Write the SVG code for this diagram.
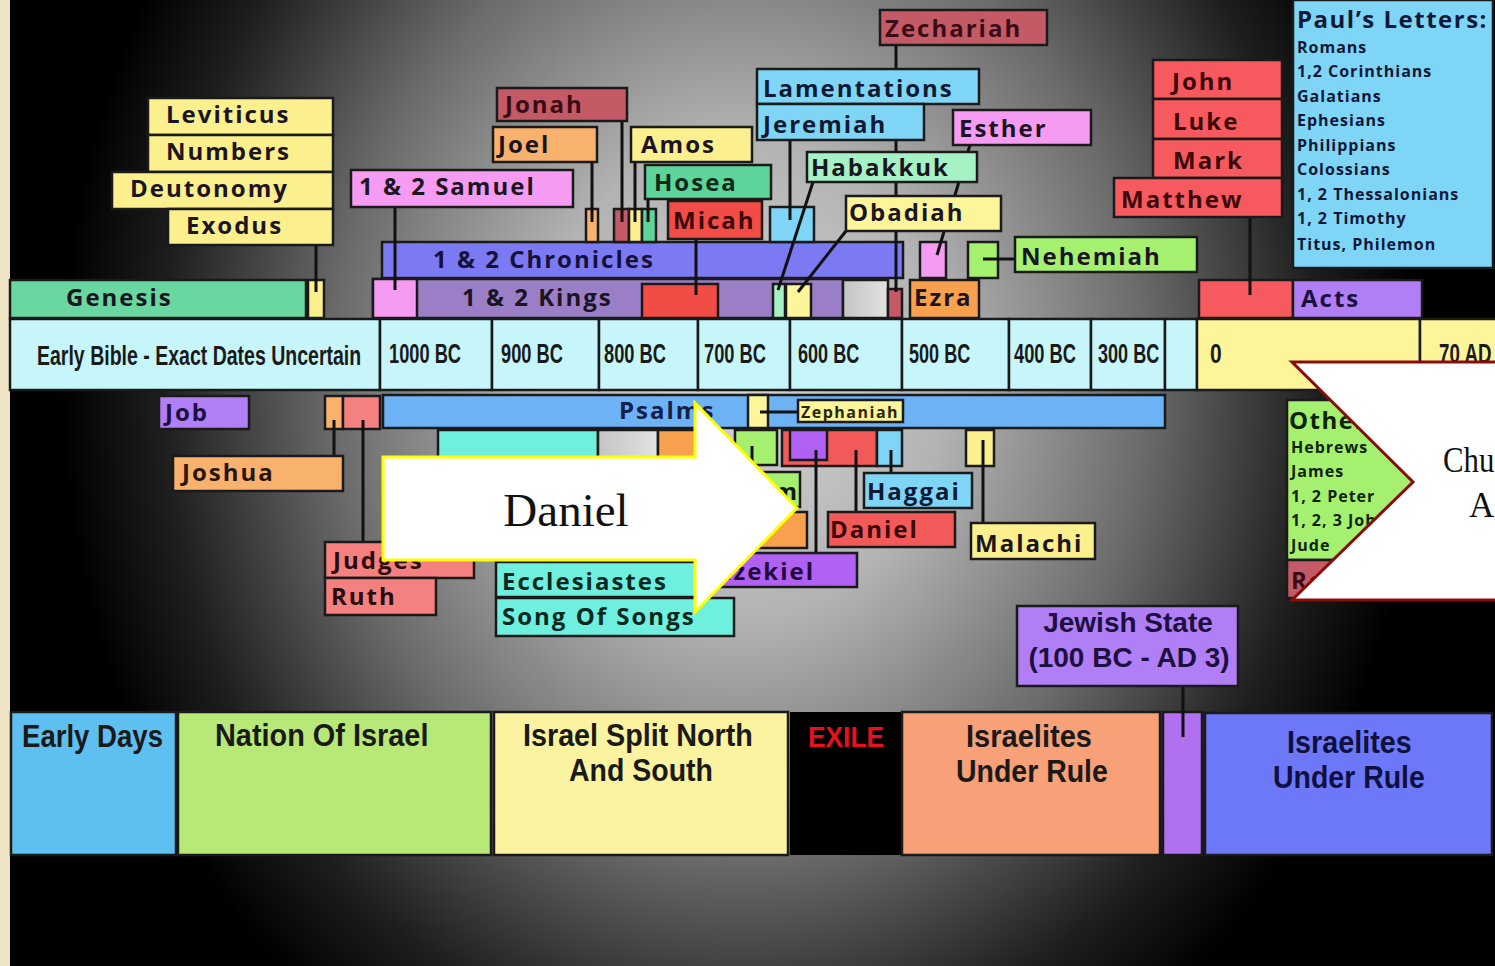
<svg xmlns="http://www.w3.org/2000/svg" width="1495" height="966" viewBox="0 0 1495 966">
<defs>
<radialGradient id="bg" gradientUnits="userSpaceOnUse" cx="0" cy="0" r="1" gradientTransform="translate(740 380) scale(680 800)">
<stop offset="0" stop-color="#d4d4d4"/>
<stop offset="0.3" stop-color="#b3b3b3"/>
<stop offset="0.6" stop-color="#6a6a6a"/>
<stop offset="0.85" stop-color="#1e1e1e"/>
<stop offset="1" stop-color="#000"/>
</radialGradient>
<linearGradient id="gry" x1="0" y1="0" x2="1" y2="0">
<stop offset="0" stop-color="#c4c4c4"/>
<stop offset="1" stop-color="#e2e2e2"/>
</linearGradient>
<style>
.b{stroke:#1a1a1a;stroke-width:2.5}
.t{font-family:"Open Sans","Noto Sans","DejaVu Sans",sans-serif;font-weight:700;font-size:24px;letter-spacing:2px;fill:#1b1422}
.s{font-size:16px;letter-spacing:1px;fill:#101838}
.c{font-family:"Liberation Sans",Arial,sans-serif;font-weight:700;fill:#1a1a1a}
.sf{font-family:"Liberation Serif","Times New Roman",serif;fill:#111}
.cn{stroke:#111;stroke-width:3;fill:none}
.yel{fill:#fbef8e}.gen{fill:#6ad6a0}.pnk{fill:#f59cf2}.ros{fill:#c35a66}.org{fill:#f9b26e}
.hos{fill:#5cd49a}.red{fill:#f24c46}.chr{fill:#7c7af2}.kng{fill:#9a7fc6}.lbl{fill:#7fd5f5}
.mnt{fill:#a6f2c4}.lim{fill:#a6f070}.ezr{fill:#f7a04e}.gsp{fill:#f75a5e}.prp{fill:#b07ef5}
.cy{fill:#c6f6fa}.ylc{fill:#fdf59a}.sal{fill:#f58080}.psa{fill:#6cb2f5}.tea{fill:#6ff0de}
.ezk{fill:#b060f2}.dan{fill:#f25a5a}
</style>
</defs>

<rect width="1495" height="966" fill="#000"/>
<rect x="10" width="1485" height="966" fill="url(#bg)"/>
<rect width="10" height="966" fill="#efe4c4"/>

<!-- timeline -->
<g id="timeline">
<rect x="10" y="319" width="370" height="71" class="cy b"/>
<rect x="380" y="319" width="112" height="71" class="cy b"/>
<rect x="492" y="319" width="107" height="71" class="cy b"/>
<rect x="599" y="319" width="99" height="71" class="cy b"/>
<rect x="698" y="319" width="92" height="71" class="cy b"/>
<rect x="790" y="319" width="112" height="71" class="cy b"/>
<rect x="902" y="319" width="107" height="71" class="cy b"/>
<rect x="1009" y="319" width="82" height="71" class="cy b"/>
<rect x="1091" y="319" width="74" height="71" class="cy b"/>
<rect x="1165" y="319" width="32" height="71" class="cy b"/>
<rect x="1197" y="319" width="223" height="71" class="ylc b"/>
<rect x="1420" y="319" width="80" height="71" class="ylc b"/>
<text class="c" font-size="28" transform="translate(37 365) scale(0.697 1)">Early Bible - Exact Dates Uncertain</text>
<text class="c" font-size="28" transform="translate(389 363) scale(0.652 1)">1000 BC</text>
<text class="c" font-size="28" transform="translate(501 363) scale(0.653 1)">900 BC</text>
<text class="c" font-size="28" transform="translate(604 363) scale(0.653 1)">800 BC</text>
<text class="c" font-size="28" transform="translate(704 363) scale(0.653 1)">700 BC</text>
<text class="c" font-size="28" transform="translate(798 363) scale(0.645 1)">600 BC</text>
<text class="c" font-size="28" transform="translate(909 363) scale(0.645 1)">500 BC</text>
<text class="c" font-size="28" transform="translate(1014 363) scale(0.653 1)">400 BC</text>
<text class="c" font-size="28" transform="translate(1098 363) scale(0.645 1)">300 BC</text>
<text class="c" font-size="28" transform="translate(1210 363) scale(0.75 1)">0</text>
<text class="c" font-size="28" transform="translate(1439 363) scale(0.67 1)">70 AD</text>
</g>

<!-- bars -->
<g id="chronicles"><rect x="382" y="242" width="521" height="36" class="chr b"/><text class="t" x="433" y="268" style="fill:#14123a">1 &amp; 2 Chronicles</text></g>
<g id="kings"><rect x="373" y="279" width="470" height="39" class="kng b"/><text class="t" x="462" y="306">1 &amp; 2 Kings</text></g>
<g id="psalms"><rect x="383" y="395" width="782" height="33" class="psa b"/><text class="t" x="619" y="419" style="fill:#14204a">Psalms</text></g>

<!-- bottom eras -->
<g id="era-early"><rect x="11" y="712" width="165" height="143" fill="#5ec0f0" class="b"/><text class="c" font-size="32" transform="translate(22 747) scale(0.862 1)">Early Days</text></g>
<g id="era-nation"><rect x="178" y="712" width="313" height="143" fill="#b8e878" class="b"/><text class="c" font-size="32" transform="translate(215 746) scale(0.903 1)">Nation Of Israel</text></g>
<g id="era-split"><rect x="494" y="712" width="294" height="143" fill="#fbf3a0" class="b"/><text class="c" font-size="32" transform="translate(523 746) scale(0.898 1)">Israel Split North</text><text class="c" font-size="32" transform="translate(569 781) scale(0.89 1)">And South</text></g>
<g id="era-exile"><rect x="790" y="712" width="111" height="143" fill="#000"/><text class="c" font-size="30" transform="translate(808 747) scale(0.877 1)" style="fill:#e8101a">EXILE</text></g>
<g id="era-rule1"><rect x="902" y="712" width="258" height="143" fill="#f8a078" class="b"/><text class="c" font-size="32" transform="translate(966 747) scale(0.908 1)">Israelites</text><text class="c" font-size="32" transform="translate(956 782) scale(0.89 1)">Under Rule</text></g>
<g id="era-jewish"><rect x="1163" y="712" width="39" height="143" fill="#b070f0" class="b"/></g>
<g id="era-rule2"><rect x="1205" y="713" width="287" height="142" fill="#6c78f8" class="b"/><text class="c" font-size="32" transform="translate(1287 753) scale(0.9 1)" style="fill:#101040">Israelites</text><text class="c" font-size="32" transform="translate(1273 788) scale(0.89 1)" style="fill:#101040">Under Rule</text></g>

<!-- markers -->
<g id="markers">
<rect id="m-exodus" x="308" y="280" width="16" height="38" class="yel b"/>
<rect id="m-samuel" x="373" y="279" width="44" height="39" class="pnk b"/>
<rect id="m-joel" x="586" y="209" width="12" height="33" class="org b"/>
<rect id="m-jonah" x="614" y="209" width="15" height="33" class="ros b"/>
<rect id="m-amos" x="629" y="209" width="13" height="33" class="yel b"/>
<rect id="m-hosea" x="642" y="209" width="14" height="33" class="hos b"/>
<rect id="m-micah" x="642" y="284" width="76" height="34" class="red b"/>
<rect id="m-jeremiah" x="770" y="207" width="44" height="35" class="lbl b"/>
<rect id="m-habakkuk" x="773" y="284" width="12" height="34" class="mnt b"/>
<rect id="m-obadiah" x="786" y="284" width="25" height="34" class="ylc b"/>
<rect id="m-gap" x="843" y="280" width="45" height="38" fill="url(#gry)" class="b"/>
<rect id="m-zechariah" x="888" y="289" width="14" height="29" class="ros b"/>
<rect id="m-esther" x="920" y="242" width="26" height="36" class="pnk b"/>
<rect id="m-nehemiah" x="968" y="242" width="30" height="36" class="lim b"/>
<rect id="m-matthew" x="1199" y="280" width="94" height="38" class="gsp b"/>
<rect id="m-joshua" x="325" y="396" width="18" height="33" class="org b"/>
<rect id="m-judges" x="343" y="396" width="37" height="33" class="sal b"/>
<rect id="m-zephaniah" x="748" y="395" width="20" height="33" class="ylc b"/>
<rect id="m-proverbs" x="438" y="430" width="160" height="36" class="tea b"/>
<rect id="m-gap2" x="598" y="430" width="60" height="36" fill="url(#gry)" class="b"/>
<rect id="m-isaiah" x="658" y="430" width="45" height="36" class="ezr b"/>
<rect id="m-nahum" x="735" y="430" width="42" height="35" class="lim b"/>
<rect id="m-daniel" x="782" y="430" width="95" height="36" class="dan b"/>
<rect id="m-ezekiel" x="790" y="430" width="37" height="30" class="ezk b"/>
<rect id="m-haggai" x="877" y="430" width="25" height="36" class="lbl b"/>
<rect id="m-malachi" x="966" y="430" width="28" height="36" class="yel b"/>
</g>

<!-- connectors -->
<g id="connectors" class="cn">
<line x1="316" y1="245" x2="316" y2="292"/>
<line x1="395" y1="207" x2="395" y2="290"/>
<line x1="592" y1="162" x2="592" y2="222"/>
<line x1="622" y1="121" x2="622" y2="222"/>
<line x1="635" y1="162" x2="635" y2="222"/>
<line x1="648" y1="199" x2="648" y2="222"/>
<line x1="696" y1="239" x2="696" y2="295"/>
<line x1="790" y1="140" x2="790" y2="220"/>
<line x1="813" y1="182" x2="778" y2="290"/>
<line x1="846" y1="231" x2="798" y2="292"/>
<line x1="896" y1="45" x2="896" y2="292"/>
<line x1="970" y1="145" x2="937" y2="255"/>
<line x1="983" y1="259" x2="1015" y2="259"/>
<line x1="1250" y1="217" x2="1250" y2="295"/>
<line x1="334" y1="420" x2="334" y2="456"/>
<line x1="363" y1="420" x2="363" y2="542"/>
<line x1="760" y1="412" x2="798" y2="412"/>
<line x1="752" y1="446" x2="752" y2="472"/>
<line x1="816" y1="450" x2="816" y2="553"/>
<line x1="856" y1="450" x2="856" y2="512"/>
<line x1="891" y1="450" x2="891" y2="473"/>
<line x1="983" y1="440" x2="983" y2="523"/>
<line x1="1183" y1="686" x2="1183" y2="737"/>
</g>

<!-- labels -->
<g id="genesis"><rect x="10" y="280" width="296" height="38" class="gen b"/><text class="t" x="66" y="306">Genesis</text></g>
<g id="leviticus"><rect x="148" y="98" width="185" height="37" class="yel b"/><text class="t" x="166" y="123">Leviticus</text></g>
<g id="numbers"><rect x="148" y="135" width="185" height="37" class="yel b"/><text class="t" x="166" y="160">Numbers</text></g>
<g id="deutonomy"><rect x="112" y="172" width="221" height="37" class="yel b"/><text class="t" x="130" y="197">Deutonomy</text></g>
<g id="exodus"><rect x="168" y="209" width="165" height="36" class="yel b"/><text class="t" x="186" y="234">Exodus</text></g>
<g id="samuel"><rect x="351" y="170" width="222" height="37" class="pnk b"/><text class="t" x="359" y="195">1 &amp; 2 Samuel</text></g>
<g id="jonah"><rect x="497" y="88" width="130" height="33" class="ros b"/><text class="t" x="505" y="113" style="fill:#3a0c16">Jonah</text></g>
<g id="joel"><rect x="493" y="127" width="104" height="35" class="org b"/><text class="t" x="498" y="153">Joel</text></g>
<g id="amos"><rect x="631" y="127" width="121" height="35" class="yel b"/><text class="t" x="641" y="153">Amos</text></g>
<g id="hosea"><rect x="645" y="165" width="126" height="34" class="hos b"/><text class="t" x="654" y="191" style="fill:#0e2a1c">Hosea</text></g>
<g id="micah"><rect x="668" y="201" width="94" height="38" class="red b"/><text class="t" x="673" y="229" style="fill:#3a0808">Micah</text></g>
<g id="zechariah"><rect x="880" y="10" width="167" height="35" class="ros b"/><text class="t" x="885" y="37" style="fill:#3a0c16">Zechariah</text></g>
<g id="lamentations"><rect x="757" y="69" width="222" height="35" class="lbl b"/><text class="t" x="763" y="97" style="fill:#0e1a34">Lamentations</text></g>
<g id="jeremiah"><rect x="757" y="104" width="167" height="36" class="lbl b"/><text class="t" x="763" y="133" style="fill:#0e1a34">Jeremiah</text></g>
<g id="esther"><rect x="953" y="110" width="138" height="35" class="pnk b"/><text class="t" x="959" y="137">Esther</text></g>
<g id="habakkuk"><rect x="807" y="152" width="170" height="30" class="mnt b"/><text class="t" x="811" y="176">Habakkuk</text></g>
<g id="obadiah"><rect x="846" y="196" width="155" height="35" class="ylc b"/><text class="t" x="849" y="221">Obadiah</text></g>
<g id="nehemiah"><rect x="1015" y="237" width="182" height="35" class="lim b"/><text class="t" x="1021" y="265">Nehemiah</text></g>
<g id="ezra"><rect x="910" y="280" width="69" height="38" class="ezr b"/><text class="t" x="914" y="306">Ezra</text></g>
<g id="john"><rect x="1153" y="60" width="129" height="39" class="gsp b"/><text class="t" x="1172" y="90" style="fill:#3a0808">John</text></g>
<g id="luke"><rect x="1153" y="99" width="129" height="40" class="gsp b"/><text class="t" x="1173" y="130" style="fill:#3a0808">Luke</text></g>
<g id="mark"><rect x="1153" y="139" width="129" height="39" class="gsp b"/><text class="t" x="1173" y="169" style="fill:#3a0808">Mark</text></g>
<g id="matthew"><rect x="1114" y="178" width="168" height="39" class="gsp b"/><text class="t" x="1121" y="208" style="fill:#3a0808">Matthew</text></g>
<g id="acts"><rect x="1293" y="280" width="129" height="38" class="prp b"/><text class="t" x="1301" y="307" style="fill:#1b1040">Acts</text></g>
<g id="pauls-letters"><rect x="1293" y="0" width="200" height="268" class="lbl b"/>
<text class="t" x="1297" y="28" style="letter-spacing:1.5px;fill:#101838">Paul’s Letters:</text>
<text class="t s" x="1297" y="53">Romans</text>
<text class="t s" x="1297" y="77">1,2 Corinthians</text>
<text class="t s" x="1297" y="102">Galatians</text>
<text class="t s" x="1297" y="126">Ephesians</text>
<text class="t s" x="1297" y="151">Philippians</text>
<text class="t s" x="1297" y="175">Colossians</text>
<text class="t s" x="1297" y="200">1, 2 Thessalonians</text>
<text class="t s" x="1297" y="224">1, 2 Timothy</text>
<text class="t s" x="1297" y="250">Titus, Philemon</text>
</g>
<g id="job"><rect x="159" y="396" width="90" height="33" class="prp b"/><text class="t" x="165" y="421" style="fill:#1b1040">Job</text></g>
<g id="joshua"><rect x="173" y="456" width="170" height="35" class="org b"/><text class="t" x="182" y="481" style="fill:#2a1408">Joshua</text></g>
<g id="judges"><rect x="325" y="542" width="149" height="36" class="sal b"/><text class="t" x="333" y="569" style="fill:#2a0a0a">Judges</text></g>
<g id="ruth"><rect x="325" y="578" width="111" height="37" class="sal b"/><text class="t" x="331" y="605" style="fill:#2a0a0a">Ruth</text></g>
<g id="zephaniah"><rect x="798" y="400" width="105" height="22" class="ylc b"/><text class="t s" x="801" y="418" style="letter-spacing:1.5px;fill:#2a2608">Zephaniah</text></g>
<g id="nahum"><rect x="690" y="472" width="110" height="35" class="lim b"/><text class="t" x="700" y="500">Nahum</text></g>
<g id="isaiah"><rect x="700" y="512" width="107" height="36" class="ezr b"/></g>
<g id="haggai"><rect x="864" y="473" width="108" height="35" class="lbl b"/><text class="t" x="867" y="500" style="fill:#0e1a34">Haggai</text></g>
<g id="daniel"><rect x="828" y="512" width="127" height="35" class="dan b"/><text class="t" x="830" y="538" style="fill:#3a0808">Daniel</text></g>
<g id="malachi"><rect x="971" y="523" width="124" height="36" class="yel b"/><text class="t" x="975" y="552">Malachi</text></g>
<g id="ezekiel"><rect x="712" y="553" width="145" height="34" class="ezk b"/><text class="t" x="718" y="580" style="fill:#20083a">Ezekiel</text></g>
<g id="ecclesiastes"><rect x="496" y="562" width="210" height="35" class="tea b"/><text class="t" x="502" y="590" style="fill:#08281f">Ecclesiastes</text></g>
<g id="song-of-songs"><rect x="496" y="598" width="238" height="38" class="tea b"/><text class="t" x="502" y="625" style="fill:#08281f">Song Of Songs</text></g>
<g id="jewish-state"><rect x="1017" y="606" width="221" height="80" class="prp b"/><text class="c" x="1128" y="632" font-size="28" text-anchor="middle" style="fill:#1b1040">Jewish State</text><text class="c" x="1129" y="667" font-size="28" text-anchor="middle" style="fill:#1b1040">(100 BC - AD 3)</text></g>
<g id="other-letters"><rect x="1287" y="400" width="170" height="160" class="lim b"/>
<text class="t" x="1289" y="429" style="letter-spacing:1.5px;fill:#0e2408">Other Letters:</text>
<text class="t s" x="1291" y="453" style="fill:#0e2408">Hebrews</text>
<text class="t s" x="1291" y="477" style="fill:#0e2408">James</text>
<text class="t s" x="1291" y="502" style="fill:#0e2408">1, 2 Peter</text>
<text class="t s" x="1291" y="526" style="fill:#0e2408">1, 2, 3 John</text>
<text class="t s" x="1291" y="551" style="fill:#0e2408">Jude</text>
</g>
<g id="revelation"><rect x="1287" y="560" width="170" height="38" class="ros b"/><text class="t" x="1291" y="589" style="fill:#3a0c16">Revelation</text></g>

<!-- callouts -->
<g id="callout-daniel">
<polygon points="383,457 695,457 695,403 797,508 695,612 695,560 383,560" fill="#fff" stroke="#ffff00" stroke-width="3"/>
<text class="sf" x="566" y="526" font-size="47" text-anchor="middle">Daniel</text>
</g>
<g id="callout-church">
<polygon points="1292,362 1500,362 1500,600 1292,600 1413,482" fill="#fff" stroke="#8b0a0a" stroke-width="3"/>
<text class="sf" font-size="35" transform="translate(1443 472) scale(0.88 1)">Chu</text>
<text class="sf" font-size="35" x="1469" y="517">A</text>
</g>
</svg>
